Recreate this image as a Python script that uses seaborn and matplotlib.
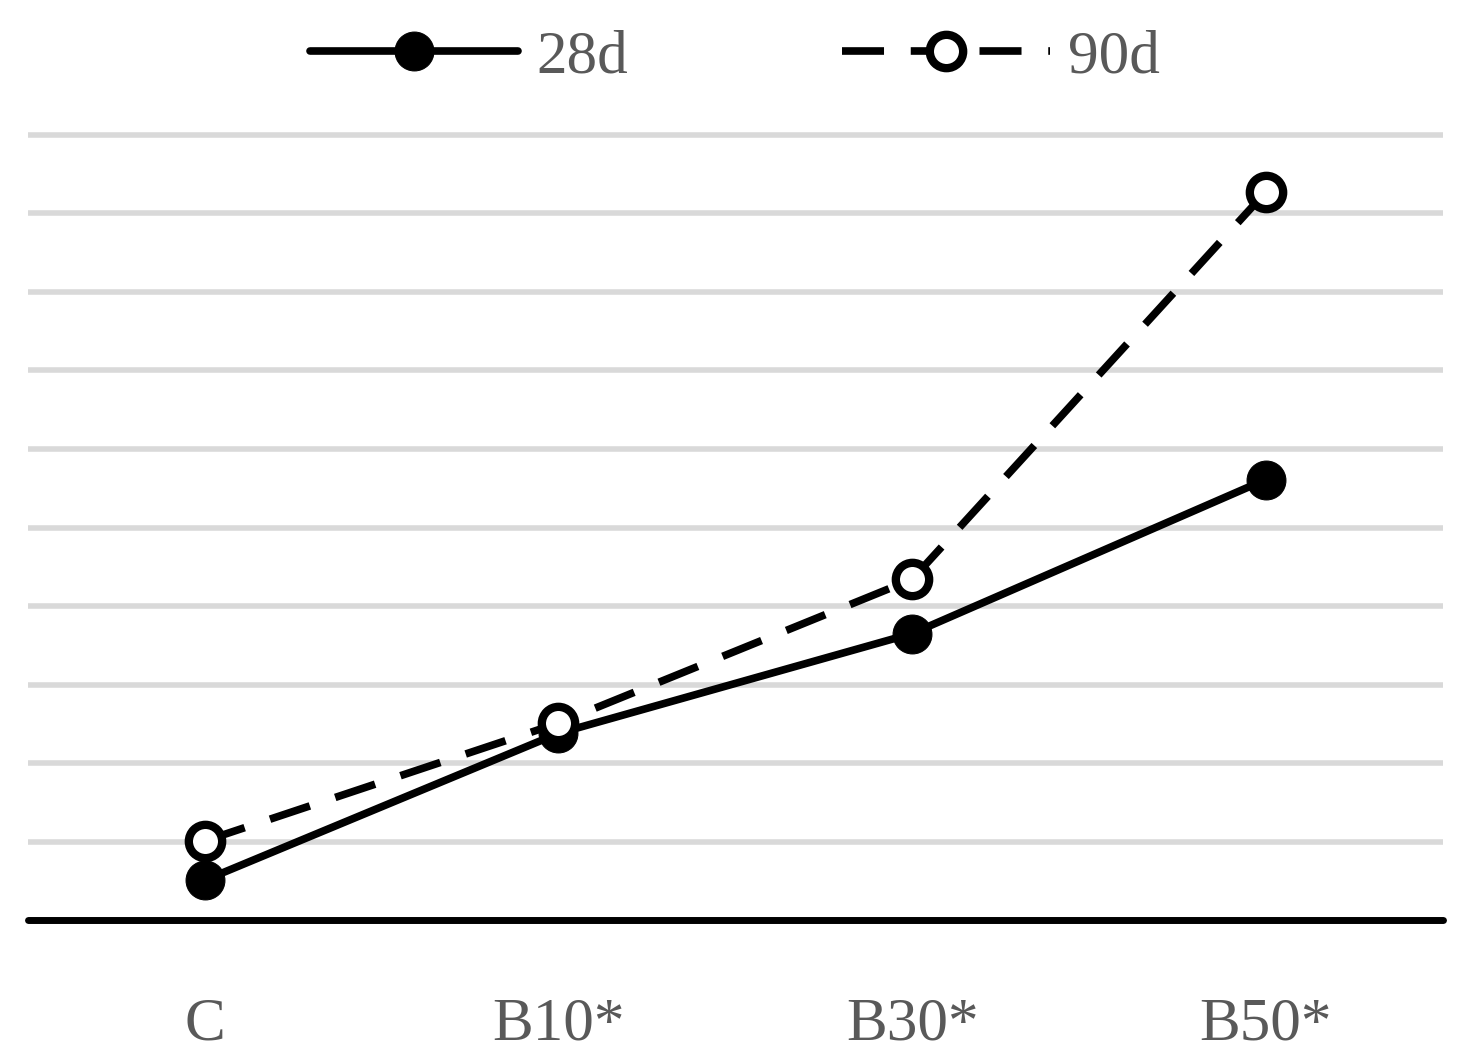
import pandas as pd
import seaborn as sns
import matplotlib.pyplot as plt

# dados (unidades = linhas de grade)
categorias = ['C', 'B10*', 'B30*', 'B50*']
valores_28d = [0.51, 2.38, 3.65, 5.61]
valores_90d = [1.01, 2.51, 4.34, 9.27]

df = pd.DataFrame({
    'cat': categorias * 2,
    'x': list(range(4)) * 2,
    'val': valores_28d + valores_90d,
    'serie': ['28d'] * 4 + ['90d'] * 4,
})

sns.set_style('white')
plt.rcParams['font.family'] = ['Liberation Serif', 'DejaVu Serif']

fig = plt.figure(figsize=(14.72, 10.59), dpi=100)
ax = fig.add_axes([0.019, 0.131, 0.961, 0.744])

for y in range(1, 11):
    ax.axhline(y, color='#d9d9d9', lw=4, zorder=0)

d28 = df[df.serie == '28d']
d90 = df[df.serie == '90d']
sns.lineplot(data=d28, x='x', y='val', ax=ax, color='black', lw=5.5,
             marker='o', markersize=28, markerfacecolor='black',
             markeredgecolor='black', label='28d', zorder=3)
sns.lineplot(data=d90, x='x', y='val', ax=ax, color='black', lw=5.5,
             linestyle=(0, (5.5, 3.5)), marker='o', markersize=24,
             markerfacecolor='white', markeredgecolor='black',
             markeredgewidth=6, label='90d', zorder=4)

ax.axhline(0, color='black', lw=5, zorder=5, clip_on=False)
ax.set_xlim(-0.5, 3.5)
ax.set_ylim(0, 10.03)
ax.set_xticks(range(4))
ax.set_xticklabels(categorias, fontsize=44, color='#595959')
ax.tick_params(axis='x', length=0, pad=55)
ax.set_yticks([])
ax.set_xlabel('')
ax.set_ylabel('')
for s in ax.spines.values():
    s.set_visible(False)

leg = ax.legend(loc='upper center', bbox_to_anchor=(0.5, 1.2), ncol=2,
                frameon=False, fontsize=44, handlelength=3.4,
                columnspacing=3.5, handletextpad=0.3, labelcolor='#595959')

fig.savefig('out.png', dpi=100)
